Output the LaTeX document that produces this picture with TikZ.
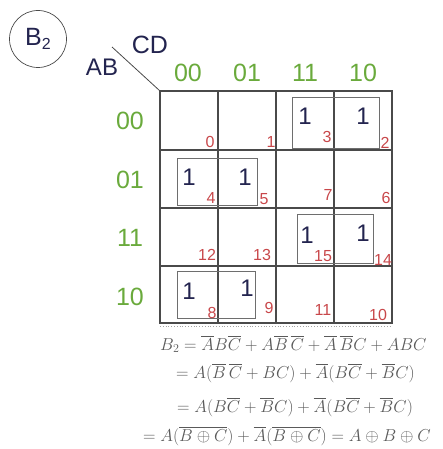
\documentclass[tikz,border=0pt]{standalone}
\usepackage{fontspec}
\usepackage{amsmath}
\setmainfont{Liberation Sans}
\definecolor{navy}{HTML}{23244F}
\definecolor{kgreen}{HTML}{6AAA3C}
\definecolor{kred}{HTML}{C8474A}
\definecolor{gridc}{HTML}{4A4A4A}
\definecolor{eqc}{HTML}{5A5A5A}
\begin{document}
\begin{tikzpicture}[x=1pt,y=-1pt,
  lab/.style={text=kgreen,font=\fontsize{25}{25}\selectfont,inner sep=0pt},
  one/.style={text=navy,font=\fontsize{24}{24}\selectfont,inner sep=0pt},
  idx/.style={text=kred,font=\fontsize{16}{16}\selectfont,inner sep=0pt},
  grp/.style={draw=gridc!80,line width=0.9pt},
  eq/.style={text=eqc,anchor=west,inner sep=0pt,font=\fontsize{16.5}{17}\selectfont}]
\useasboundingbox (0,0) rectangle (443,449);
% circle label
\node[draw=gridc,circle,line width=0.7pt,minimum size=57pt,inner sep=0pt] (b2) at (38,39) {};
\node[text=navy,inner sep=0pt,font=\fontsize{25}{25}\selectfont] (b2t) at (38,39) {B\raisebox{-0.35ex}{\fontsize{16}{16}\selectfont 2}};
% header
\coordinate (diagA) at (112,47);
\coordinate (g00) at (160,91);
\draw[gridc,line width=0.8pt] (diagA) -- (g00);
\node[text=navy,inner sep=0pt,font=\fontsize{25}{25}\selectfont] (cd) at (150,45) {CD};
\node[text=navy,inner sep=0pt,font=\fontsize{24}{24}\selectfont] (ab) at (102,67) {AB};
% column labels
\node[lab] (c00) at (188,73) {00};
\node[lab] (c01) at (247,73) {01};
\node[lab] (c11) at (305,73) {11};
\node[lab] (c10) at (363,73) {10};
% row labels
\node[lab] (r00) at (130,121) {00};
\node[lab] (r01) at (130,180) {01};
\node[lab] (r11) at (130,238) {11};
\node[lab] (r10) at (130,297) {10};
% grid
\coordinate (gbr) at (392,323);
\draw[gridc,line width=1.1pt] (g00) rectangle (gbr);
\foreach \x in {218,276,334} \draw[gridc,line width=1.1pt] (\x,91) -- (\x,323);
\foreach \y in {150,208,266} \draw[gridc,line width=1.1pt] (160,\y) -- (392,\y);
\draw[gridc!50,line width=0.8pt,dotted] (160,326.5) -- (392,326.5);
% groups
\draw[grp] (292,97) rectangle (379,148);
\draw[grp] (177,158) rectangle (257,205);
\draw[grp] (297,214) rectangle (373,263);
\draw[grp] (177,271) rectangle (255,318);
% ones
\node[one] (o3) at (305,116) {1};
\node[one] (o2) at (363,116) {1};
\node[one] (o4) at (189,177) {1};
\node[one] (o5) at (245,177) {1};
\node[one] (o15) at (307,235) {1};
\node[one] (o14) at (363,233) {1};
\node[one] (o8) at (189,291) {1};
\node[one] (o9) at (247,288) {1};
% indices
\node[idx] (n0) at (210,142) {0};
\node[idx] (n1) at (271,142) {1};
\node[idx] (n3) at (327,137) {3};
\node[idx] (n2) at (385,143) {2};
\node[idx] (n4) at (211,198) {4};
\node[idx] (n5) at (264,199) {5};
\node[idx] (n7) at (328,195) {7};
\node[idx] (n6) at (386,198) {6};
\node[idx] (n12) at (207,255) {12};
\node[idx] (n13) at (262,255) {13};
\node[idx] (n15) at (323,256) {15};
\node[idx] (n14) at (383,260) {14};
\node[idx] (n8) at (212,313) {8};
\node[idx] (n9) at (269,308) {9};
\node[idx] (n11) at (323,310) {11};
\node[idx] (n10) at (378,315) {10};
% equations
\node[eq] (e1) at (160,344) {$B_2=\overline{A}B\overline{C}+A\overline{B}\,\overline{C}+\overline{A}\,\overline{B}C+ABC$};
\node[eq] (e2) at (176,373) {$=A(\overline{B}\,\overline{C}+BC)+\overline{A}(B\overline{C}+\overline{B}C)$};
\node[eq] (e3) at (177,407) {$=A(B\overline{C}+\overline{B}C)+\overline{A}(B\overline{C}+\overline{B}C)$};
\node[eq] (e4) at (143,436) {$=A(\overline{B\oplus C})+\overline{A}(\overline{B\oplus C})=A\oplus B\oplus C$};
\end{tikzpicture}
\end{document}
